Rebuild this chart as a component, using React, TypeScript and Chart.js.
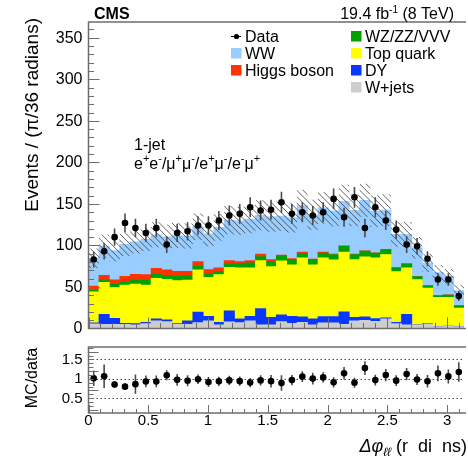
import React, { useEffect, useRef } from "react";
import { Chart, registerables } from "chart.js";

Chart.register(...registerables);

const FONT = '"Liberation Sans", Arial, Helvetica, "DejaVu Sans", sans-serif';

// ---- binning (36 bins over 0..pi) ----
const N_BINS = 36;
const X_MAX = Math.PI;
const BIN_W = X_MAX / N_BINS;
const binCenters = Array.from({ length: N_BINS }, (_, k) => (k + 0.5) * BIN_W);

// ---- data ----
const dataCounts = [83, 93, 110, 127, 121, 115, 121, 101, 115, 117, 124, 124, 130, 136, 138, 146, 142, 143, 152, 138, 140, 136, 140, 156, 134, 158, 121, 146, 130, 119, 101, 99, 84, 59, 59, 39];
const dataErrors = [9.5, 10, 10.5, 11.5, 11, 11, 11, 10, 11, 11, 11, 11, 11.5, 12, 12, 12, 12, 12, 12.5, 12, 12, 11.5, 12, 12.5, 11.5, 12.5, 11, 12, 11.5, 11, 10, 10, 9, 7.5, 7.5, 6];

// ---- MC stack (bottom to top) ----
const wjets = [5.5, 5, 5, 5, 4.3, 5.9, 9.1, 8.3, 5, 5, 7, 9.1, 4.3, 7.9, 7, 9.1, 4.3, 4.5, 8.3, 6.3, 7.5, 4.3, 6.7, 6.7, 5, 9.1, 9.9, 8.7, 11.5, 5.9, 4.3, 4, 5.5, 2.2, 2.5, 2.2];
const dy = [1.2, 12.2, 7.3, 1.2, 1.5, 1.6, 2.4, 2, 0.8, 4.1, 12.9, 5.7, 3.2, 13.3, 4.5, 5.7, 19.7, 8.8, 8.1, 8.5, 6.5, 7.2, 7.7, 7.7, 15, 4.2, 4.1, 3.3, 1.2, 1.6, 12.9, 0.5, 0.8, 0.3, 0.3, 0.3];
const topQuark = [37.5, 38.3, 37.1, 46.1, 47.7, 44.8, 48.9, 48.9, 51.8, 49.2, 50.6, 46.8, 57.3, 52.5, 61.4, 58.1, 57.8, 61.2, 65.1, 61.8, 71.1, 65.1, 70.7, 68.2, 71.9, 69.7, 72.3, 73.1, 76.4, 61, 55.7, 54.3, 42.3, 34.9, 34.6, 22];
const wzzzvvv = [2.8, 3.2, 4.1, 3.2, 4.8, 6, 5.2, 4.4, 5.2, 5.3, 4.5, 4, 4.1, 4.1, 4.9, 6.1, 4.7, 5.7, 5.8, 6.4, 4.9, 6.4, 5.7, 6.5, 6.9, 6.1, 6.8, 5.7, 5.7, 4.4, 4.9, 3.6, 2.9, 2, 2.8, 2.8];
const higgs = [4, 5.3, 5.2, 7.3, 6.9, 6.5, 6.9, 6.9, 6.1, 5.3, 5.6, 5.3, 4, 4, 2.8, 2.8, 3.2, 2.8, 1.2, 1.3, 2, 0.6, 1.2, 0.5, 0.6, 0.4, 0.4, 0.4, 0.4, 0.3, 0.2, 0.2, 0.2, 0.2, 0.2, 0.2];
const ww = [33.4, 35.2, 35.1, 38.6, 39.2, 42.5, 40.4, 39.8, 43.1, 42.5, 42, 43, 48.8, 48.8, 49.1, 50, 46.6, 51.4, 46.8, 49.2, 56, 53.3, 53.2, 52.2, 53.6, 52.7, 60.9, 50.1, 47.3, 40.2, 35.3, 34.6, 27.2, 27.7, 22.3, 18.3];
const mcUncertainty = [12, 14, 13, 14, 14, 14, 15, 15, 15, 15, 16, 15, 16, 17, 17, 17, 18, 18, 18, 18, 19, 18, 19, 19, 20, 19, 20, 19, 19, 15, 15, 13, 11, 9, 9, 7];

// ---- ratio panel ----
const ratioErrors = [0.2, 0.3, 0.09, 0.08, 0.25, 0.15, 0.15, 0.13, 0.15, 0.14, 0.12, 0.13, 0.12, 0.12, 0.12, 0.12, 0.13, 0.16, 0.2, 0.13, 0.14, 0.15, 0.13, 0.13, 0.16, 0.13, 0.18, 0.14, 0.16, 0.14, 0.16, 0.14, 0.16, 0.2, 0.18, 0.25];

// ---- tick labels ----
const yTickLabels = ["0", "50", "100", "150", "200", "250", "300", "350"];
const xTickLabels = ["0", "0.5", "1", "1.5", "2", "2.5", "3"];
const ratioTickLabels = ["0.5", "1", "1.5"];

const stack = [
  { label: "W+jets", values: wjets, color: "#cdcdcd" },
  { label: "DY", values: dy, color: "#0838ff" },
  { label: "Top quark", values: topQuark, color: "#ffff00" },
  { label: "WZ/ZZ/VVV", values: wzzzvvv, color: "#00a000" },
  { label: "Higgs boson", values: higgs, color: "#ff3300" },
  { label: "WW", values: ww, color: "#99ccff" },
];

const mcTotal = binCenters.map((_, i) => stack.reduce((s, c) => s + c.values[i], 0));
const ratioValues = mcTotal.map((t, i) => t / dataCounts[i]);

const FRAME = "#6e6e6e";

function drawFrameAndTicks(
  chart: any,
  yScaleId: string,
  yMinorStep: number,
  yMin: number,
  yMax: number,
  yMajorEvery: number,
  yMajorLen: number,
  yMinorLen: number,
  xMajorLen: number,
  xMinorLen: number
) {
  const ctx = chart.ctx as CanvasRenderingContext2D;
  const a = chart.chartArea;
  const xs = chart.scales.x;
  const ys = chart.scales[yScaleId];
  ctx.save();
  ctx.strokeStyle = FRAME;
  ctx.lineWidth = 1.5;
  ctx.beginPath();
  ctx.moveTo(a.right + 2, a.top);
  ctx.lineTo(a.left, a.top);
  ctx.lineTo(a.left, a.bottom);
  ctx.lineTo(a.right + 2, a.bottom);
  ctx.stroke();
  ctx.lineWidth = 1;
  ctx.beginPath();
  const nY = Math.round((yMax - yMin) / yMinorStep);
  for (let i = 0; i <= nY; i++) {
    const v = yMin + i * yMinorStep;
    const p = Math.round(ys.getPixelForValue(v)) + 0.5;
    if (p < a.top - 0.5 || p > a.bottom + 0.5) continue;
    const len = i % yMajorEvery === 0 ? yMajorLen : yMinorLen;
    ctx.moveTo(a.left, p);
    ctx.lineTo(a.left + len, p);
  }
  for (let i = 0; i <= 31; i++) {
    const v = i / 10;
    const p = Math.round(xs.getPixelForValue(v)) + 0.5;
    const len = i % 5 === 0 ? xMajorLen : xMinorLen;
    ctx.moveTo(p, a.bottom);
    ctx.lineTo(p, a.bottom - len);
  }
  ctx.stroke();
  ctx.restore();
}

function drawErrorBars(chart: any, yScaleId: string, vals: number[], errs: number[]) {
  const ctx = chart.ctx as CanvasRenderingContext2D;
  const xs = chart.scales.x;
  const ys = chart.scales[yScaleId];
  ctx.save();
  ctx.strokeStyle = "#4a4a4a";
  ctx.lineWidth = 1.6;
  ctx.beginPath();
  vals.forEach((v, i) => {
    const x = xs.getPixelForValue(binCenters[i]);
    ctx.moveTo(x, ys.getPixelForValue(v - errs[i]));
    ctx.lineTo(x, ys.getPixelForValue(v + errs[i]));
  });
  ctx.stroke();
  ctx.restore();
}

function drawRich(
  ctx: CanvasRenderingContext2D,
  parts: { t: string; font: string; dy?: number }[],
  x: number,
  y: number,
  align: "left" | "right"
) {
  let total = 0;
  const ws = parts.map((p) => {
    ctx.font = p.font;
    const w = ctx.measureText(p.t).width;
    total += w;
    return w;
  });
  let cx = align === "left" ? x : x - total;
  ctx.textAlign = "left";
  ctx.textBaseline = "alphabetic";
  parts.forEach((p, i) => {
    ctx.font = p.font;
    ctx.fillText(p.t, cx, y + (p.dy || 0));
    cx += ws[i];
  });
}

const DATA_INDEX = stack.length;

const mainPlugin = {
  id: "mainDecor",
  beforeDatasetDraw(chart: any, args: any) {
    if (args.index !== DATA_INDEX) return;
    const ctx = chart.ctx as CanvasRenderingContext2D;
    const a = chart.chartArea;
    const xs = chart.scales.x;
    const ys = chart.scales.y;
    // hatched MC uncertainty band
    ctx.save();
    ctx.beginPath();
    ctx.rect(a.left, a.top, a.right - a.left, a.bottom - a.top);
    ctx.clip();
    ctx.beginPath();
    mcTotal.forEach((t, i) => {
      const x0 = xs.getPixelForValue(i * BIN_W);
      const x1 = xs.getPixelForValue((i + 1) * BIN_W);
      const yHi = ys.getPixelForValue(t + mcUncertainty[i]);
      const yLo = ys.getPixelForValue(t - mcUncertainty[i]);
      ctx.rect(x0, yHi, x1 - x0, yLo - yHi);
    });
    ctx.clip();
    ctx.strokeStyle = "rgba(60,60,60,0.8)";
    ctx.lineWidth = 1;
    ctx.beginPath();
    const H = a.bottom - a.top;
    for (let x = a.left - H; x < a.right + 5; x += 6.3) {
      ctx.moveTo(x, a.top);
      ctx.lineTo(x + H, a.bottom);
    }
    ctx.stroke();
    ctx.restore();
    drawErrorBars(chart, "yd", dataCounts, dataErrors);
  },
  afterDraw(chart: any) {
    const ctx = chart.ctx as CanvasRenderingContext2D;
    const a = chart.chartArea;
    const ys = chart.scales.y;
    drawFrameAndTicks(chart, "y", 10, 0, 360, 5, 11, 5.5, 11, 5.5);
    ctx.save();
    ctx.fillStyle = "#000";
    // y tick labels
    ctx.font = `16px ${FONT}`;
    ctx.textAlign = "right";
    ctx.textBaseline = "middle";
    yTickLabels.forEach((l) => {
      ctx.fillText(l, a.left - 6, ys.getPixelForValue(Number(l)) + 0.5);
    });
    // y title
    ctx.save();
    ctx.translate(38, 18);
    ctx.rotate(-Math.PI / 2);
    ctx.font = `19px ${FONT}`;
    ctx.textAlign = "right";
    ctx.textBaseline = "alphabetic";
    ctx.fillText("Events / (π/36 radians)", 0, 0);
    ctx.restore();
    // header
    ctx.font = `bold 16px ${FONT}`;
    ctx.textAlign = "left";
    ctx.textBaseline = "alphabetic";
    ctx.fillText("CMS", 94, 19);
    drawRich(
      ctx,
      [
        { t: "19.4 fb", font: `16px ${FONT}` },
        { t: "-1", font: `10px ${FONT}`, dy: -6 },
        { t: " (8 TeV)", font: `16px ${FONT}` },
      ],
      454,
      19,
      "right"
    );
    // annotations
    ctx.font = `16px ${FONT}`;
    ctx.textAlign = "left";
    ctx.fillText("1-jet", 134, 149.5);
    const b = `16px ${FONT}`;
    const s = `11px ${FONT}`;
    drawRich(
      ctx,
      [
        { t: "e", font: b }, { t: "+", font: s, dy: -7 },
        { t: "e", font: b }, { t: "-", font: s, dy: -7 },
        { t: "/μ", font: b }, { t: "+", font: s, dy: -7 },
        { t: "μ", font: b }, { t: "-", font: s, dy: -7 },
        { t: "/e", font: b }, { t: "+", font: s, dy: -7 },
        { t: "μ", font: b }, { t: "-", font: s, dy: -7 },
        { t: "/e", font: b }, { t: "-", font: s, dy: -7 },
        { t: "μ", font: b }, { t: "+", font: s, dy: -7 },
      ],
      134,
      168.5,
      "left"
    );
    // legend
    ctx.font = `16px ${FONT}`;
    ctx.textAlign = "left";
    ctx.textBaseline = "alphabetic";
    const rows = [36, 53, 70, 87];
    // Data entry
    ctx.strokeStyle = "#000";
    ctx.lineWidth = 1;
    ctx.beginPath();
    ctx.moveTo(231, rows[0] + 0.5);
    ctx.lineTo(241, rows[0] + 0.5);
    ctx.stroke();
    ctx.beginPath();
    ctx.arc(236.5, rows[0] + 0.5, 2.6, 0, Math.PI * 2);
    ctx.fill();
    ctx.fillText("Data", 245, rows[0] + 5.8);
    const legendEntries = [
      { idx: 5, col: 0, row: 1 },
      { idx: 4, col: 0, row: 2 },
      { idx: 3, col: 1, row: 0 },
      { idx: 2, col: 1, row: 1 },
      { idx: 1, col: 1, row: 2 },
      { idx: 0, col: 1, row: 3 },
    ];
    legendEntries.forEach((e) => {
      const bx = e.col === 0 ? 231 : 351;
      const cy = rows[e.row];
      ctx.fillStyle = stack[e.idx].color;
      ctx.fillRect(bx, cy - 5, 10.5, 10.5);
      ctx.fillStyle = "#000";
      ctx.fillText(stack[e.idx].label, bx + 14, cy + 5.8);
    });
    ctx.restore();
  },
};

const ratioPlugin = {
  id: "ratioDecor",
  beforeDatasetsDraw(chart: any) {
    const ctx = chart.ctx as CanvasRenderingContext2D;
    const a = chart.chartArea;
    const ys = chart.scales.y;
    ctx.save();
    ctx.strokeStyle = "#444";
    ctx.lineWidth = 1;
    ctx.setLineDash([1.5, 2.5]);
    ctx.beginPath();
    ratioTickLabels.forEach((l) => {
      const p = Math.round(ys.getPixelForValue(Number(l))) + 0.5;
      ctx.moveTo(a.left, p);
      ctx.lineTo(a.right, p);
    });
    ctx.stroke();
    ctx.restore();
    drawErrorBars(chart, "y", ratioValues, ratioErrors);
  },
  afterDraw(chart: any) {
    const ctx = chart.ctx as CanvasRenderingContext2D;
    const a = chart.chartArea;
    const xs = chart.scales.x;
    const ys = chart.scales.y;
    drawFrameAndTicks(chart, "y", 0.1, 0.2, 1.8, 5, 10, 5, 8, 4);
    ctx.save();
    ctx.fillStyle = "#000";
    ctx.font = `15px ${FONT}`;
    ctx.textAlign = "right";
    ctx.textBaseline = "middle";
    ratioTickLabels.forEach((l) => {
      ctx.fillText(l, a.left - 6, ys.getPixelForValue(Number(l)) + 0.5);
    });
    ctx.textAlign = "center";
    ctx.textBaseline = "middle";
    xTickLabels.forEach((l) => {
      ctx.fillText(l, xs.getPixelForValue(Number(l)), a.bottom + 8);
    });
    // ratio title
    ctx.save();
    ctx.translate(37, 378);
    ctx.rotate(-Math.PI / 2);
    ctx.font = `16px ${FONT}`;
    ctx.textAlign = "center";
    ctx.textBaseline = "alphabetic";
    ctx.fillText("MC/data", 0, 0);
    ctx.restore();
    // x title
    drawRich(
      ctx,
      [
        { t: "Δφ", font: `italic 18px ${FONT}` },
        { t: "ℓℓ", font: `italic 12px ${FONT}`, dy: 4 },
        { t: " (r  di  ns)", font: `18px ${FONT}` },
      ],
      467,
      452,
      "right"
    );
    ctx.restore();
  },
};

function mainConfig(): any {
  return {
    type: "bar",
    data: {
      datasets: [
        ...stack.map((s) => ({
          type: "bar",
          label: s.label,
          data: s.values.map((v, i) => ({ x: binCenters[i], y: v })),
          backgroundColor: s.color,
          borderWidth: 0,
          barPercentage: 1,
          categoryPercentage: 1,
          stack: "mc",
        })),
        {
          type: "scatter",
          label: "Data",
          data: dataCounts.map((v, i) => ({ x: binCenters[i], y: v })),
          yAxisID: "yd",
          pointRadius: 3.3,
          pointBackgroundColor: "#000",
          pointBorderWidth: 0,
          order: -1,
        },
      ],
    },
    options: {
      animation: false,
      responsive: false,
      events: [],
      layout: { padding: { left: 88.5, right: 0, top: 22, bottom: 457 - 328.5 } },
      scales: {
        x: { type: "linear", min: 0, max: X_MAX, offset: false, display: false },
        y: { type: "linear", min: 0, max: 369, stacked: true, display: false },
        yd: { type: "linear", min: 0, max: 369, display: false },
      },
      plugins: { legend: { display: false }, tooltip: { enabled: false } },
    },
    plugins: [mainPlugin],
  };
}

function ratioConfig(): any {
  return {
    type: "scatter",
    data: {
      datasets: [
        {
          label: "MC/data",
          data: ratioValues.map((v, i) => ({ x: binCenters[i], y: v })),
          pointRadius: 3.3,
          pointBackgroundColor: "#000",
          pointBorderWidth: 0,
        },
      ],
    },
    options: {
      animation: false,
      responsive: false,
      events: [],
      layout: { padding: { left: 88.5, right: 0, top: 347, bottom: 457 - 413 } },
      scales: {
        x: { type: "linear", min: 0, max: X_MAX, display: false },
        y: { type: "linear", min: 0.12, max: 1.82, display: false },
      },
      plugins: { legend: { display: false }, tooltip: { enabled: false } },
    },
    plugins: [ratioPlugin],
  };
}

export default function App() {
  const mainRef = useRef<HTMLCanvasElement>(null);
  const ratioRef = useRef<HTMLCanvasElement>(null);
  useEffect(() => {
    document.body.style.margin = "0";
    const c1 = new Chart(mainRef.current as HTMLCanvasElement, mainConfig());
    const c2 = new Chart(ratioRef.current as HTMLCanvasElement, ratioConfig());
    return () => {
      c1.destroy();
      c2.destroy();
    };
  }, []);
  return (
    <div style={{ position: "fixed", left: 0, top: 0, width: 468, height: 457, overflow: "hidden", background: "#fff" }}>
      <canvas ref={mainRef} width={468} height={457} style={{ position: "absolute", left: 0, top: 0 }} />
      <canvas ref={ratioRef} width={468} height={457} style={{ position: "absolute", left: 0, top: 0 }} />
    </div>
  );
}
